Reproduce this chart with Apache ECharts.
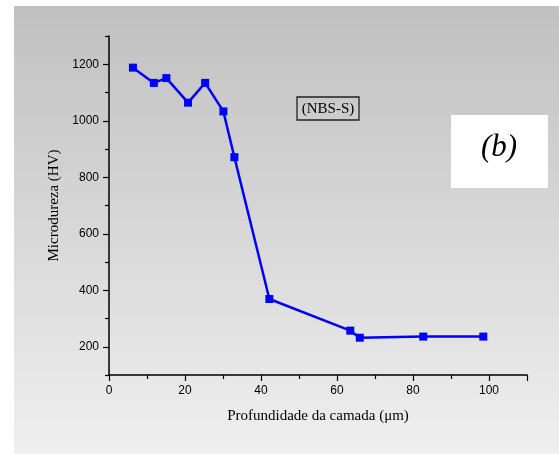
<!DOCTYPE html>
<html>
<head>
<meta charset="utf-8">
<script src="https://cdn.jsdelivr.net/npm/echarts@6/dist/echarts.min.js"></script>
<style>
  html, body { margin: 0; padding: 0; background: #fff; }
  #chart { width: 559px; height: 454px; }
</style>
</head>
<body>
<div id="chart"></div>
<script>
  // profundidade (um) e microdureza (HV)
  var depth = [6.3, 11.8, 15.1, 20.8, 25.3, 30.1, 33.0, 42.2, 63.5, 66.0, 82.7, 98.5];
  var hardness = [1188, 1134, 1151, 1064, 1134, 1033, 871, 369, 257, 232, 236, 236];

  var xTicks = [0, 20, 40, 60, 80, 100];
  var yTicks = [200, 400, 600, 800, 1000, 1200];
  var yMinorTicks = [100, 300, 500, 700, 900, 1100, 1300];

  var points = [];
  for (var i = 0; i < depth.length; i++) {
    points.push([depth[i], hardness[i]]);
  }

  var chart = echarts.init(document.getElementById('chart'));

  var option = {
    animation: false,
    graphic: [
      {
        type: 'rect', z: -100, silent: true,
        shape: { x: 14, y: 6, width: 545, height: 448 },
        style: {
          fill: new echarts.graphic.LinearGradient(0, 0, 0, 1, [
            { offset: 0, color: '#c0c0c0' },
            { offset: 1, color: '#efefef' }
          ])
        }
      },
      {
        type: 'rect', z: 10,
        shape: { x: 297, y: 97, width: 62, height: 23 },
        style: { fill: 'rgba(0,0,0,0)', stroke: '#222', lineWidth: 1.3 }
      },
      {
        type: 'text', z: 11,
        x: 328, y: 109,
        style: {
          text: '(NBS-S)', font: '15px "Liberation Serif"', fill: '#000',
          align: 'center', verticalAlign: 'middle'
        }
      },
      {
        type: 'rect', z: 10,
        shape: { x: 451, y: 115, width: 97, height: 73 },
        style: { fill: '#fff' }
      },
      {
        type: 'text', z: 11,
        x: 499, y: 148,
        style: {
          text: '(b)', font: 'italic 31px "Liberation Serif"', fill: '#000',
          align: 'center', verticalAlign: 'middle'
        }
      }
    ],
    grid: { left: 109, top: 36, right: 32, bottom: 79 },
    xAxis: {
      type: 'value', min: 0, max: 110, interval: 20,
      name: 'Profundidade da camada (\u03bcm)',
      nameLocation: 'middle', nameGap: 34,
      nameTextStyle: { fontFamily: 'Liberation Serif', fontSize: 15, color: '#000' },
      axisLine: { show: true, lineStyle: { color: '#000', width: 1.5 } },
      axisTick: { show: true, inside: false, length: 6, lineStyle: { color: '#000', width: 1.2 } },
      minorTick: { show: true, splitNumber: 2, length: 4, lineStyle: { color: '#000', width: 1.2 } },
      splitLine: { show: false },
      axisLabel: {
        fontFamily: 'Liberation Sans', fontSize: 12, color: '#000', margin: 10,
        formatter: function (v) { return xTicks.indexOf(v) >= 0 ? String(v) : ''; }
      }
    },
    yAxis: [
      {
        type: 'value', min: 100, max: 1300, interval: 100,
        name: 'Microdureza (HV)',
        nameLocation: 'middle', nameGap: 46,
        nameTextStyle: { fontFamily: 'Liberation Serif', fontSize: 15, color: '#000' },
        axisLine: { show: true, lineStyle: { color: '#000', width: 1.5 } },
        axisTick: { show: true, inside: false, length: 6, customValues: yTicks, lineStyle: { color: '#000', width: 1.2 } },
        splitLine: { show: false },
        axisLabel: {
          fontFamily: 'Liberation Sans', fontSize: 12, color: '#000', margin: 10,
          customValues: yTicks,
          formatter: function (v) { return String(v); }
        }
      },
      {
        // minor ticks only
        type: 'value', min: 100, max: 1300, interval: 100, position: 'left',
        axisLine: { show: false },
        axisTick: { show: true, inside: false, length: 4, customValues: yMinorTicks, lineStyle: { color: '#000', width: 1.2 } },
        splitLine: { show: false },
        axisLabel: { show: false }
      }
    ],
    series: [{
      type: 'line',
      data: points,
      symbol: 'rect',
      symbolSize: 8,
      lineStyle: { color: '#0000ff', width: 2.5 },
      itemStyle: { color: '#0000ff' },
      z: 5
    }]
  };

  chart.setOption(option);
</script>
</body>
</html>
